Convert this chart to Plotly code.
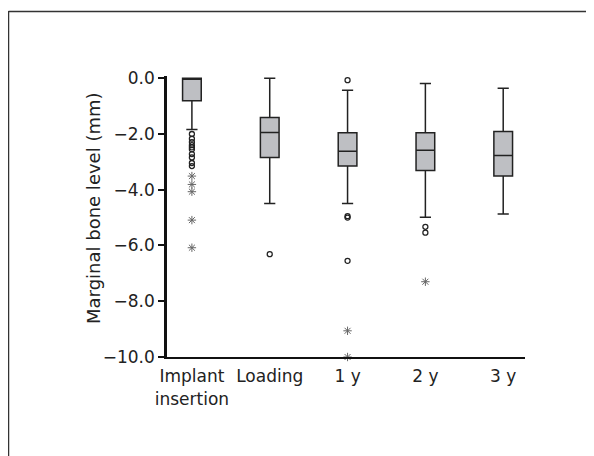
import plotly.graph_objects as go

categories = ["Implant<br>insertion", "Loading", "1 y", "2 y", "3 y"]
q1 = [-0.81, -2.84, -3.15, -3.31, -3.51]
median = [0.0, -1.95, -2.62, -2.58, -2.77]
q3 = [0.0, -1.41, -1.96, -1.96, -1.91]
lowerfence = [-1.84, -4.49, -4.49, -4.99, -4.87]
upperfence = [0.0, 0.0, -0.43, -0.19, -0.36]

# outliers: (category index, value)
circle_cat = [0, 0, 0, 0, 0, 0, 0, 0, 0, 0, 1, 2, 2, 2, 2, 3, 3]
circle_val = [-2.0, -2.17, -2.29, -2.4, -2.48, -2.55, -2.72, -2.84, -3.04, -3.15,
              -6.31, -0.07, -4.95, -5.0, -6.55, -5.33, -5.54]
star_cat = [0, 0, 0, 0, 0, 2, 2, 3]
star_val = [-3.51, -3.81, -4.07, -5.09, -6.08, -9.06, -10.0, -7.3]

ytickvals = [0, -2, -4, -6, -8, -10]
yticktext = ["0.0", "\u22122.0", "\u22124.0", "\u22126.0", "\u22128.0", "\u221210.0"]

FONT = "DejaVu Sans"
TXT = "#222222"

fig = go.Figure()
fig.add_trace(go.Box(
    x=list(range(len(categories))), q1=q1, median=median, q3=q3,
    lowerfence=lowerfence, upperfence=upperfence,
    fillcolor="#bebfc3", line=dict(color="#222222", width=1.5),
    width=0.24, whiskerwidth=0.6, boxpoints=False, showlegend=False,
    hoverinfo="skip"))
fig.add_trace(go.Scatter(
    x=circle_cat, y=circle_val, mode="markers",
    marker=dict(symbol="circle-open", size=5, color="#222222", line=dict(width=1.3)),
    showlegend=False, hoverinfo="skip"))
fig.add_trace(go.Scatter(
    x=star_cat, y=star_val, mode="markers",
    marker=dict(symbol="asterisk-open", size=7, color="#666666", line=dict(width=1)),
    showlegend=False, hoverinfo="skip", cliponaxis=False))

# page body has an 8px margin: figure placed at (8, 8) in the window
fig.update_layout(
    width=586, height=448,
    margin=dict(l=159, r=69, t=68, b=99),
    paper_bgcolor="white", plot_bgcolor="white",
    font=dict(family=FONT, size=17, color=TXT),
    xaxis=dict(range=[-0.32, 4.28], tickvals=list(range(len(categories))),
               ticktext=categories, showgrid=False, zeroline=False,
               showline=True, linecolor="#111111", linewidth=2, ticks="",
               ticklabelstandoff=3,
               tickfont=dict(family=FONT, size=17, color=TXT)),
    yaxis=dict(range=[-10, 0.08], tickvals=ytickvals, ticktext=yticktext,
               showgrid=False, zeroline=False, showline=True,
               linecolor="#111111", linewidth=2.5, ticks="outside",
               ticklen=6, tickwidth=2, tickcolor="#111111",
               tickfont=dict(family=FONT, size=17, color=TXT)),
    annotations=[dict(text="Marginal bone level (mm)", xref="paper", yref="paper",
                      x=(93 - 167) / 358, y=(357 - 208) / 281, textangle=-90,
                      showarrow=False, font=dict(family=FONT, size=18, color=TXT),
                      xanchor="center", yanchor="middle")],
    shapes=[
        dict(type="line", xref="paper", yref="paper",
             x0=(8.5 - 167) / 358, x1=(594 - 167) / 358,
             y0=(357 - 11.5) / 281, y1=(357 - 11.5) / 281,
             line=dict(color="#333333", width=1.5)),
        dict(type="line", xref="paper", yref="paper",
             x0=(8.5 - 167) / 358, x1=(8.5 - 167) / 358,
             y0=(357 - 11) / 281, y1=(357 - 456) / 281,
             line=dict(color="#333333", width=1.5)),
    ],
)

fig.write_html("out.html")
